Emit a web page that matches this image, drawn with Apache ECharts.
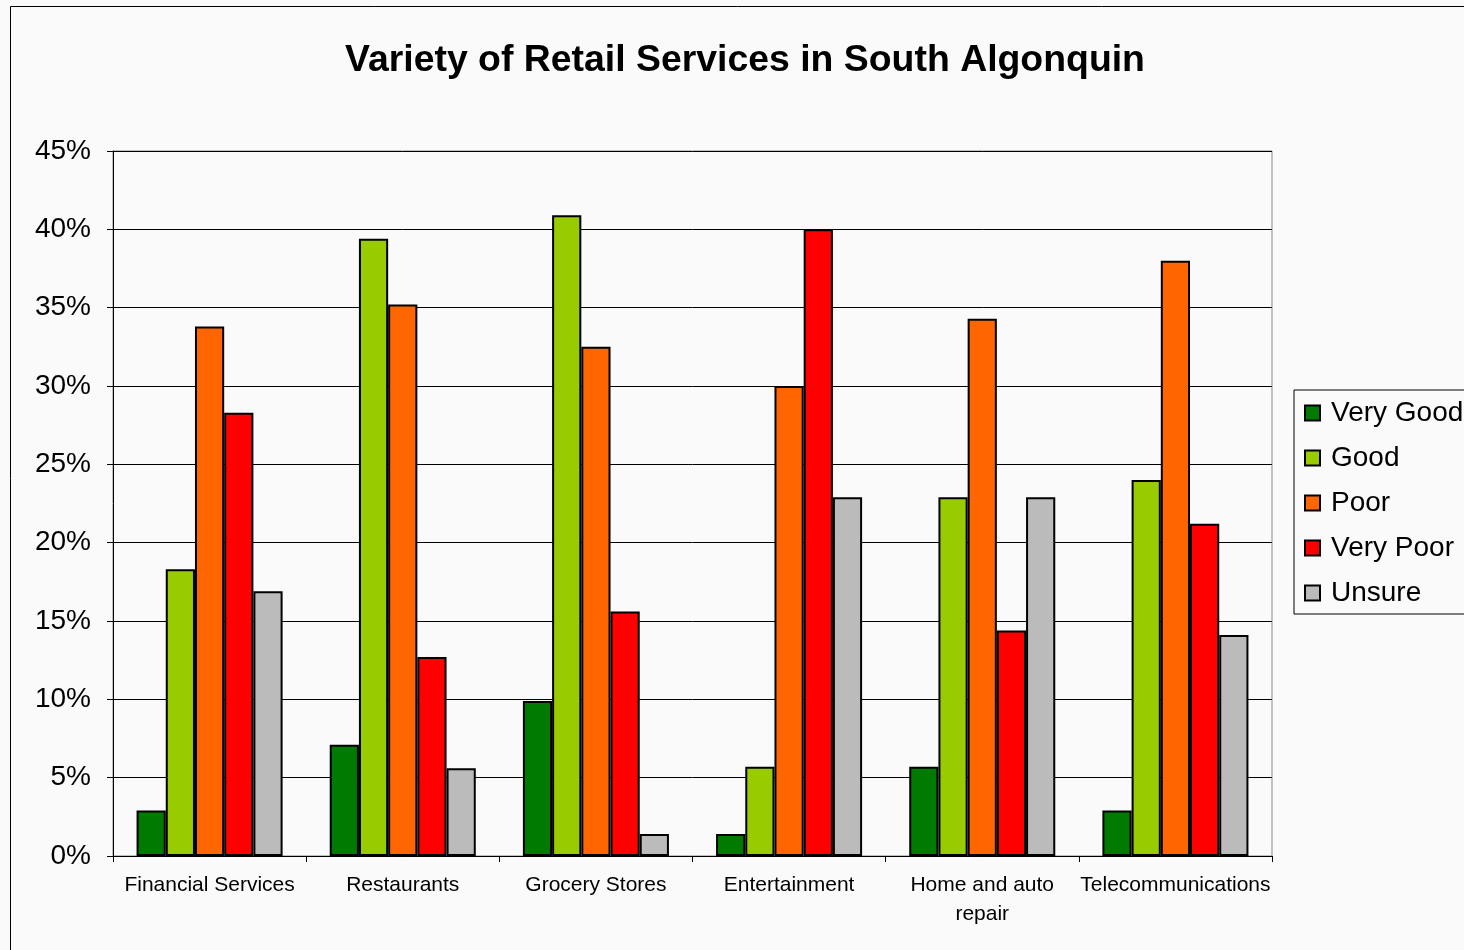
<!DOCTYPE html>
<html>
<head>
<meta charset="utf-8">
<title>Variety of Retail Services in South Algonquin</title>
<script src="https://cdn.jsdelivr.net/npm/echarts@6/dist/echarts.min.js"></script>
<style>
  html, body { margin: 0; padding: 0; background: #fafafa; }
  #chart { width: 1464px; height: 950px; }
</style>
</head>
<body>
<div id="chart"></div>
<script>
// Service categories along the x axis
const categories = ['Financial Services', 'Restaurants', 'Grocery Stores', 'Entertainment', 'Home and auto repair', 'Telecommunications'];

// Share of respondents (%) per rating
const veryGood = [2.9, 7.1, 9.9, 1.4, 5.7, 2.9];
const good     = [18.3, 39.4, 40.9, 5.7, 22.9, 24.0];
const poor     = [33.8, 35.2, 32.5, 30.0, 34.3, 38.0];
const veryPoor = [28.3, 12.7, 15.6, 40.0, 14.4, 21.2];
const unsure   = [16.9, 5.6, 1.4, 22.9, 22.9, 14.1];

const seriesNames = ['Very Good', 'Good', 'Poor', 'Very Poor', 'Unsure'];
const seriesData = [veryGood, good, poor, veryPoor, unsure];
const seriesColors = ['#007a00', '#99cc00', '#ff6600', '#ff0000', '#bbbbbb'];

const font = '"Liberation Sans", Arial, sans-serif';

const chart = echarts.init(document.getElementById('chart'), null, { renderer: 'canvas' });

chart.setOption({
  backgroundColor: '#fafafa',
  animation: false,
  textStyle: { fontFamily: font },
  graphic: [{
    type: 'rect',
    shape: { x: 10.5, y: 6.5, width: 1500, height: 1000 },
    style: { fill: 'none', stroke: '#000', lineWidth: 1 },
    silent: true
  }],
  title: {
    text: 'Variety of Retail Services in South Algonquin',
    left: 740,
    textAlign: 'center',
    top: 37,
    textStyle: { fontFamily: font, fontSize: 37.4, fontWeight: 'bold', color: '#000' }
  },
  legend: {
    orient: 'vertical',
    left: 1294,
    top: 390,
    padding: [8, 40, 6, 10],
    icon: 'rect',
    itemWidth: 15,
    itemHeight: 15,
    itemGap: 15,
    borderColor: '#000',
    borderWidth: 1,
    backgroundColor: '#fafafa',
    textStyle: { fontFamily: font, fontSize: 28, color: '#000', lineHeight: 30, padding: [0, 0, 0, 6] },
    data: seriesNames
  },
  grid: {
    left: 113,
    right: 192,
    top: 151,
    bottom: 94,
    show: true,
    borderColor: '#888',
    borderWidth: 1,
    backgroundColor: 'transparent'
  },
  xAxis: {
    type: 'category',
    data: categories,
    axisLine: { lineStyle: { color: '#000', width: 1 } },
    axisTick: { show: true, length: 6, lineStyle: { color: '#000' } },
    axisLabel: {
      fontFamily: font,
      fontSize: 21,
      color: '#000',
      margin: 15,
      lineHeight: 29,
      interval: 0,
      formatter: v => v === 'Home and auto repair' ? 'Home and auto\nrepair' : v
    }
  },
  yAxis: {
    type: 'value',
    min: 0,
    max: 45,
    interval: 5,
    axisLine: { show: true, lineStyle: { color: '#000', width: 1 } },
    axisTick: { show: true, length: 6, lineStyle: { color: '#000' } },
    splitLine: { lineStyle: { color: '#000', width: 1 } },
    axisLabel: {
      fontFamily: font,
      fontSize: 28,
      color: '#000',
      margin: 22,
      formatter: '{value}%'
    }
  },
  series: seriesNames.map((name, i) => ({
    name: name,
    type: 'bar',
    data: seriesData[i],
    barGap: '0%',
    barCategoryGap: '24.4%',
    itemStyle: { color: seriesColors[i], borderColor: '#000', borderWidth: 2 }
  }))
});
</script>
</body>
</html>
